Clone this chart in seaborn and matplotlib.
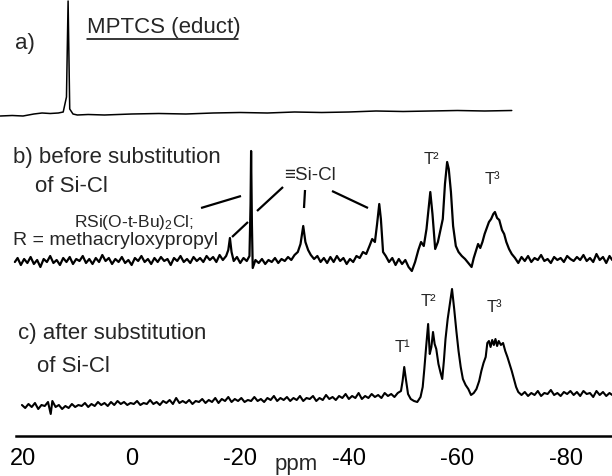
import numpy as np
import pandas as pd
import matplotlib
matplotlib.use("Agg")
import matplotlib.pyplot as plt
import seaborn as sns

# 29Si NMR spectra: chemical shift (ppm) and intensity (arbitrary units)

# a) MPTCS (educt)
a_ppm = [24.2, 22.0, 20.0, 18.0, 16.5, 15.0, 13.5, 12.6, 12.0, 11.7, 11.4, 10.8,
         10.0, 8.0, 5.0, 0.0, -5.0, -10.0, -15.0, -20.0, -25.0, -30.0, -35.0,
         -40.0, -45.0, -50.0, -55.0, -60.0, -65.0, -70.0]
a_int = [1, 1.5, 1, 3, 4, 3.5, 4, 5, 20, 116, 8, 3,
         2, 2.5, 2, 3, 3.5, 3, 4, 4.5, 4, 5, 4.5,
         5, 6, 5.5, 6, 6.5, 6, 6.5]

# b) before substitution of Si-Cl
b_ppm = [21.5, 21.0, 20.4, 19.8, 19.2, 18.6, 18.0, 17.4, 16.8, 16.2, 15.6, 15.0,
         14.4, 13.8, 13.2, 12.6, 12.0, 11.4, 10.8, 10.2, 9.6, 9.0, 8.4, 7.8,
         7.2, 6.6, 6.0, 5.4, 4.8, 4.2, 3.6, 3.0, 2.4, 1.8, 1.2, 0.6,
         0.0, -0.6, -1.2, -1.8, -2.4, -3.0, -3.6, -4.2, -4.8, -5.4, -6.0, -6.6,
         -7.2, -7.8, -8.4, -9.0, -9.6, -10.2, -10.8, -11.4, -12.0, -12.6, -13.2, -13.8,
         -14.4, -15.0, -15.6, -16.2, -16.8, -17.4, -17.8, -18.1, -18.4, -18.8, -19.4, -20.0,
         -20.6, -21.2, -21.7, -21.9, -22.0, -22.15, -22.3, -22.8, -23.4, -24.0, -24.6, -25.2,
         -25.8, -26.4, -27.0, -27.6, -28.2, -28.8, -29.4, -30.0, -30.6, -31.1, -31.6, -32.0,
         -32.5, -33.0, -33.6, -34.2, -34.8, -35.4, -36.0, -36.6, -37.2, -37.8, -38.4, -39.0,
         -39.6, -40.2, -40.8, -41.4, -42.0, -42.6, -43.2, -43.8, -44.3, -44.8, -45.2, -45.6,
         -45.9, -46.3, -46.8, -47.4, -48.0, -48.6, -49.2, -49.8, -50.4, -51.0, -51.6, -52.2,
         -52.8, -53.3, -53.8, -54.3, -55.0, -55.4, -55.9, -56.4, -56.9, -57.3, -57.7, -58.1,
         -58.4, -58.8, -59.2, -59.7, -60.2, -60.8, -61.4, -62.0, -62.6, -63.0, -63.4, -63.8,
         -64.2, -64.6, -65.0, -65.4, -65.8, -66.2, -66.6, -66.9, -67.3, -67.7, -68.2, -68.6,
         -69.0, -69.5, -70.0, -70.6, -71.2, -71.8, -72.4, -73.0, -73.6, -74.2, -74.8, -75.4,
         -76.0, -76.6, -77.2, -77.8, -78.4, -79.0, -79.6, -80.2, -80.8, -81.4, -82.0, -82.6,
         -83.2, -83.8, -84.4, -85.0, -85.6, -86.2, -86.8, -87.4, -88.0, -88.5]
b_int = [2, 6, -1, 5, 1, 7, 0, 4, -3, 5, 2, 8,
         1, 4, -1, 6, 2, 7, 0, 5, 3, 8, 1, 5,
         0, 6, 2, 9, 3, 6, 0, 5, 2, 7, 1, 4,
         -1, 6, 3, 8, 2, 5, 0, 6, 2, 7, 3, 5,
         -1, 6, 3, 8, 2, 5, 1, 7, 3, 6, 2, 8,
         4, 7, 2, 9, 4, 8, 14, 26, 12, 3, 7, 1,
         6, 3, 8, 60, 113, 40, -4, 4, 1, 5, 0, 4,
         2, 6, 1, 5, 3, 7, 4, 9, 12, 20, 38, 22,
         14, 9, 5, 8, 2, 6, 1, 7, 2, 8, 3, 6,
         0, 5, 2, 8, 6, 12, 10, 18, 25, 22, 40, 60,
         45, 12, 8, 2, 6, -1, 5, 0, 4, -3, -7, 2,
         14, 22, 18, 35, 72, 50, 15, 22, 35, 45, 80, 102,
         95, 72, 38, 18, 12, 8, 5, 1, -3, 6, 13, 20,
         16, 22, 30, 36, 42, 45, 50, 52, 46, 44, 34, 30,
         22, 15, 10, 6, 1, 7, 3, 8, 2, 6, 4, 9,
         3, 5, 1, 7, 4, 6, 2, 8, 5, 3, 7, 4,
         9, 3, 6, 2, 10, 4, 7, 1, 8, 4]

# c) after substitution of Si-Cl
c_ppm = [20.2, 19.6, 19.0, 18.4, 17.8, 17.2, 16.6, 16.0, 15.4, 14.9, 14.6, 14.0,
         13.4, 12.8, 12.2, 11.6, 11.0, 10.4, 9.8, 9.2, 8.6, 8.0, 7.4, 6.8,
         6.2, 5.6, 5.0, 4.4, 3.8, 3.2, 2.6, 2.0, 1.4, 0.8, 0.2, -0.4,
         -1.0, -1.6, -2.2, -2.8, -3.4, -4.0, -4.6, -5.2, -5.8, -6.4, -7.0, -7.6,
         -8.2, -8.8, -9.4, -10.0, -10.6, -11.2, -11.8, -12.4, -13.0, -13.6, -14.2, -14.8,
         -15.4, -16.0, -16.6, -17.2, -17.8, -18.4, -19.0, -19.6, -20.2, -20.8, -21.4, -22.0,
         -22.6, -23.2, -23.8, -24.4, -25.0, -25.6, -26.2, -26.8, -27.4, -28.0, -28.6, -29.2,
         -29.8, -30.4, -31.0, -31.6, -32.2, -32.8, -33.4, -34.0, -34.6, -35.2, -35.8, -36.4,
         -37.0, -37.6, -38.2, -38.8, -39.4, -40.0, -40.6, -41.2, -41.8, -42.4, -43.0, -43.6,
         -44.2, -44.8, -45.4, -46.0, -46.6, -47.2, -47.8, -48.4, -49.0, -49.6, -49.9, -50.2,
         -50.5, -50.9, -51.4, -52.0, -52.6, -53.2, -53.6, -53.9, -54.2, -54.6, -54.9, -55.2,
         -55.5, -55.8, -56.1, -56.5, -56.9, -57.2, -57.5, -57.8, -58.2, -58.6, -59.0, -59.4,
         -59.8, -60.2, -60.6, -61.0, -61.5, -62.0, -62.5, -63.0, -63.5, -64.0, -64.4, -64.8,
         -65.2, -65.5, -65.8, -66.1, -66.4, -66.7, -67.0, -67.3, -67.6, -68.0, -68.4, -68.8,
         -69.2, -69.6, -70.0, -70.4, -70.8, -71.2, -71.8, -72.4, -73.0, -73.6, -74.2, -74.8,
         -75.4, -76.0, -76.6, -77.2, -77.8, -78.4, -79.0, -79.6, -80.2, -80.8, -81.4, -82.0,
         -82.6, -83.2, -83.8, -84.4, -85.0, -85.6, -86.2, -86.8, -87.4, -88.0, -88.5]
c_int = [4, 1, 5, 2, 6, 0, 4, 3, 7, -5, 8, 2,
         4, 0, 3, 1, 5, 2, 4, 3, 6, 2, 5, 3,
         7, 4, 6, 3, 7, 4, 8, 5, 7, 4, 6, 5,
         8, 4, 6, 5, 9, 5, 7, 4, 8, 6, 9, 5,
         11, 6, 8, 6, 9, 5, 8, 7, 10, 6, 9, 7,
         11, 6, 10, 8, 12, 7, 10, 8, 11, 7, 9, 8,
         12, 8, 10, 7, 11, 9, 13, 8, 11, 9, 12, 8,
         11, 9, 13, 8, 11, 10, 13, 8, 11, 9, 14, 10,
         12, 9, 13, 11, 15, 10, 13, 11, 16, 10, 13, 11,
         15, 12, 14, 11, 16, 13, 15, 12, 16, 18, 28, 42,
         30, 15, 10, 8, 7, 12, 22, 40, 60, 85, 55, 62,
         77, 65, 60, 45, 36, 30, 48, 70, 90, 105, 120, 100,
         78, 58, 42, 30, 24, 20, 14, 16, 20, 28, 38, 46,
         52, 66, 68, 62, 69, 64, 70, 63, 68, 64, 66, 58,
         52, 45, 38, 30, 22, 17, 14, 17, 13, 16, 14, 18,
         13, 16, 15, 19, 14, 16, 13, 17, 15, 18, 14, 17,
         13, 18, 15, 16, 12, 18, 14, 17, 13, 16, 14]

tick_values = [20, 0, -20, -40, -60, -80]
tick_labels = ["20", "0", "-20", "-40", "-60", "-80"]

sns.set_style("white")
plt.rcParams["font.family"] = ["Liberation Sans", "DejaVu Sans"]
plt.rcParams["mathtext.fontset"] = "custom"
plt.rcParams["mathtext.rm"] = "Liberation Sans"
plt.rcParams["mathtext.it"] = "Liberation Sans:italic"

fig = plt.figure(figsize=(6.12, 4.77), dpi=100)
ax = fig.add_axes([0, 0, 1, 1])

# vertical stacking of the three traces
stack = {"a": 359, "b": 212, "c": 67}
widths = {"a": 1.1, "b": 1.6, "c": 1.5}
for key, ppm, inten in (("a", a_ppm, a_int), ("b", b_ppm, b_int), ("c", c_ppm, c_int)):
    df = pd.DataFrame({"ppm": ppm, "signal": np.asarray(inten, float) + stack[key]})
    sns.lineplot(data=df, x="ppm", y="signal", estimator=None, sort=False,
                 color="black", lw=widths[key], ax=ax)

ax.set_xlim(24.24, -88.46)
ax.set_ylim(0, 477)
ax.set_xlabel("")
ax.set_ylabel("")
ax.set_yticks([])
for side in ("top", "right", "left"):
    ax.spines[side].set_visible(False)
ax.spines["bottom"].set_position(("data", 40))
ax.spines["bottom"].set_bounds(21.3, -88.46)
ax.spines["bottom"].set_linewidth(1.8)
ax.spines["bottom"].set_color("black")
ax.set_xticks(tick_values, tick_labels)
ax.tick_params(axis="x", direction="out", length=5.8, width=1.3, color="black",
               labelsize=17, pad=2, labelcolor="black")
ax.text(-30.27, 7, "ppm", fontsize=16, ha="center", va="baseline")

# panel captions
ax.text(21.48, 433, "a)", fontsize=16, ha="left", va="center")
ax.text(8.22, 444, "MPTCS (educt)", fontsize=16, ha="left", va="baseline")
ax.plot([8.22, -19.59], [437.5, 437.5], color="black", lw=1.1)
ax.text(21.85, 314, "b) before substitution", fontsize=16, ha="left", va="baseline")
ax.text(17.8, 285, "of Si-Cl", fontsize=16, ha="left", va="baseline")
ax.text(21.0, 138, "c) after substitution", fontsize=16, ha="left", va="baseline")
ax.text(17.5, 105, "of Si-Cl", fontsize=16, ha="left", va="baseline")

# assignments in trace b
ax.text(-0.5, 250, "RSi(O-t-Bu)$_2$Cl;", fontsize=12.5, ha="center", va="baseline")
ax.text(21.85, 232, "R = methacryloxypropyl", fontsize=14, ha="left", va="baseline")
ax.text(-32.85, 301, "\u2261Si-Cl", fontsize=13.5, ha="center", va="center")
for (x0, y0), (x1, y1) in (((-12.78, 268), (-20.14, 280)),
                           ((-18.49, 239), (-21.43, 254)),
                           ((-23.09, 265), (-27.88, 289)),
                           ((-31.93, 286), (-31.74, 268)),
                           ((-36.9, 285), (-43.53, 268))):
    ax.plot([x0, x1], [y0, y1], color="black", lw=1.6, solid_capstyle="butt")
ax.text(-55.13, 317, "T\u00b2", fontsize=12, ha="center", va="center")
ax.text(-66.37, 297, "T\u00b3", fontsize=12, ha="center", va="center")

# assignments in trace c
ax.text(-49.79, 129, "T\u00b9", fontsize=12, ha="center", va="center")
ax.text(-54.58, 175, "T\u00b2", fontsize=12, ha="center", va="center")
ax.text(-66.74, 170, "T\u00b3", fontsize=12, ha="center", va="center")

fig.savefig("out.png", dpi=100)
